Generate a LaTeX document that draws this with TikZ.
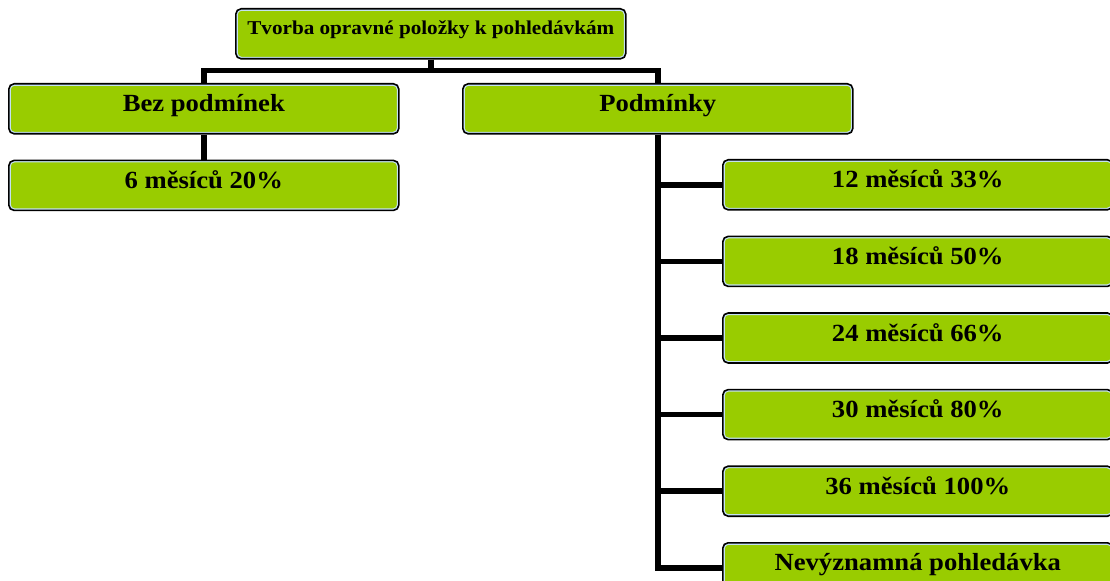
\documentclass[tikz,border=0pt]{standalone}
\usepackage{fontspec}
\setmainfont{Liberation Serif}[FakeStretch=1.08]
\usetikzlibrary{positioning}
\definecolor{boxgreen}{HTML}{99CC00}
\definecolor{rimblue}{HTML}{C4E2F2}
\tikzset{
  box/.style={rectangle, rounded corners=4pt, draw=black, line width=1.2pt, fill=boxgreen,
    minimum width=292.5pt, inner ysep=0pt, text height=21pt, text depth=16.5pt,
    font=\bfseries\fontsize{18.5}{22}\selectfont,
    path picture={\draw[rimblue, line width=3pt, rounded corners=4pt]
      (path picture bounding box.south west) rectangle (path picture bounding box.north east);}},
  topbox/.style={box, text height=19.5pt, text depth=18pt, font=\bfseries\fontsize{14.7}{18}\selectfont},
  link/.style={line width=4.3pt},
}

\begin{document}
\begin{tikzpicture}[x=0.75pt, y=-0.75pt, node distance=18.75pt]
\useasboundingbox (0,0) rectangle (1110,581);
\node[topbox, anchor=north west] (tvorba) at (235,8) {Tvorba opravné položky k pohledávkám};
\node[box, anchor=north west] (bez) at (8,83) {Bez podmínek};
\node[box, anchor=north west] (podm) at (462,83) {Podmínky};
\node[box, below=of bez] (m6) {6 měsíců 20\%};
\node[box, anchor=north west] (m12) at (722,159) {12 měsíců 33\%};
\node[box, below=of m12] (m18) {18 měsíců 50\%};
\node[box, below=of m18] (m24) {24 měsíců 66\%};
\node[box, below=of m24] (m30) {30 měsíců 80\%};
\node[box, below=of m30] (m36) {36 měsíců 100\%};
\node[box, below=of m36] (nevyz) {Nevýznamná pohledávka};
\draw[link] (tvorba.south) -- ++(0,11) -| (bez.north);
\draw[link] (tvorba.south) -- ++(0,11) -| (podm.north);
\draw[link] (bez.south) -- (m6.north);
\draw[link] (podm.south) |- (m12.west);
\draw[link] (podm.south) |- (m18.west);
\draw[link] (podm.south) |- (m24.west);
\draw[link] (podm.south) |- (m30.west);
\draw[link] (podm.south) |- (m36.west);
\draw[link] (podm.south) |- (nevyz.west);
\end{tikzpicture}
\end{document}
